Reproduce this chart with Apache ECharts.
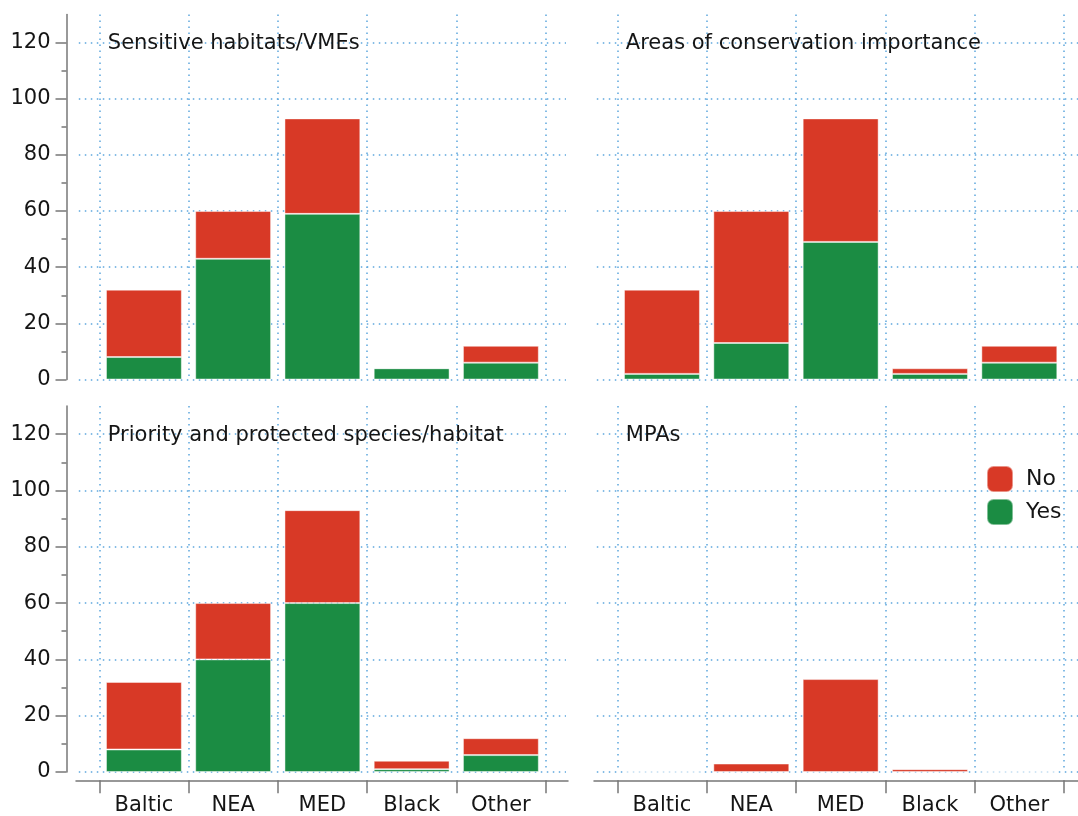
<!DOCTYPE html>
<html>
<head>
<meta charset="utf-8">
<script src="https://cdn.jsdelivr.net/npm/echarts@6/dist/echarts.min.js"></script>
<style>
html,body{margin:0;padding:0;background:#fff;}
#chart{width:1078px;height:816px;}
</style>
</head>
<body>
<div id="chart"></div>
<script>
// ---- data ----
var categories = ['Baltic', 'NEA', 'MED', 'Black', 'Other'];
var panelTitles = ['Sensitive habitats/VMEs', 'Areas of conservation importance', 'Priority and protected species/habitat', 'MPAs'];
var seriesNames = ['No', 'Yes'];
var sensitiveYes = [8, 43, 59, 4, 6];
var sensitiveNo  = [24, 17, 34, 0, 6];
var areasYes     = [2, 13, 49, 2, 6];
var areasNo      = [30, 47, 44, 2, 6];
var priorityYes  = [8, 40, 60, 1, 6];
var priorityNo   = [24, 20, 33, 3, 6];
var mpaYes       = [0, 0, 0, 0, 0];
var mpaNo        = [0, 3, 33, 1, 0];
var yMax = 130, yLabelMax = 120, yStep = 20;

var yesData = [sensitiveYes, areasYes, priorityYes, mpaYes];
var noData  = [sensitiveNo, areasNo, priorityNo, mpaNo];

// ---- layout ----
var RED = '#d83926', GREEN = '#1b8c43', GRIDC = '#5da7dd', AXC = '#777', TXT = '#151515';
var FONT = 'DejaVu Sans', FS = 21;
var DOT = {color: GRIDC, width: 1.5, type: [1.5, 4.5]};
var panels = [
  {catLeft: 99.3, catW: 446.2, top: 14.5, zero: 379.5, left: true,  bottom: false, axL: 76, axW: 492},
  {catLeft: 617.3, catW: 446.7, top: 14.5, zero: 379.5, left: false, bottom: false, axL: 594, axW: 490},
  {catLeft: 99.3, catW: 446.2, top: 406, zero: 772, left: true,  bottom: true, axL: 76, axW: 492},
  {catLeft: 617.3, catW: 446.7, top: 406, zero: 772, left: false, bottom: true, axL: 594, axW: 490}
];
var pad = 20.5, axisX = 66.5, xAxisY = 781;

var grids = [], xAxes = [], yAxes = [], series = [], titles = [];
var HIDE = {axisLine: {show: false}, axisTick: {show: false}, axisLabel: {show: false}, splitLine: {show: false}};
function addGrid(g, xa, ya) {
  var k = grids.length;
  grids.push(g);
  xAxes.push(Object.assign({gridIndex: k}, HIDE, xa));
  yAxes.push(Object.assign({gridIndex: k}, HIDE, ya));
  return k;
}

panels.forEach(function (p, i) {
  var h = p.zero - p.top;
  var hA = h * yLabelMax / yMax;
  // horizontal dotted grid lines (0..120), wider than the category band
  addGrid({left: p.catLeft - pad, top: p.zero - hA, width: p.catW + 2 * pad, height: hA},
    {type: 'value', min: 0, max: 1},
    {type: 'value', min: 0, max: yLabelMax, interval: yStep, splitLine: {show: true, lineStyle: DOT}});
  // bars + vertical dotted lines
  var kb = addGrid({left: p.catLeft, top: p.top, width: p.catW, height: h},
    {type: 'category', data: categories, boundaryGap: true,
     splitLine: {show: true, interval: 0, lineStyle: DOT}},
    {type: 'value', min: 0, max: yMax});
  if (p.left) {
    // y axis line (0..130)
    addGrid({left: axisX, top: p.top, width: 1, height: h},
      {type: 'value', min: 0, max: 1},
      {type: 'value', min: 0, max: yMax, axisLine: {show: true, lineStyle: {color: AXC, width: 1.5}}});
    // y ticks and labels (0..120)
    addGrid({left: axisX, top: p.zero - hA, width: 1, height: hA},
      {type: 'value', min: 0, max: 1},
      {type: 'value', min: 0, max: yLabelMax, interval: yStep,
       axisTick: {show: true, length: 11, lineStyle: {color: AXC, width: 1.5}},
       minorTick: {show: true, splitNumber: 2, length: 5, lineStyle: {color: AXC, width: 1.5}},
       axisLabel: {show: true, fontSize: FS, fontFamily: FONT, color: TXT, margin: 16}});
  }
  if (p.bottom) {
    // x axis line
    addGrid({left: p.axL, top: xAxisY - 1, width: p.axW, height: 1},
      {type: 'value', min: 0, max: 1, axisLine: {show: true, lineStyle: {color: AXC, width: 1.5}}},
      {type: 'value', min: 0, max: 1});
    // x ticks and labels
    addGrid({left: p.catLeft, top: xAxisY - 1, width: p.catW, height: 1},
      {type: 'category', data: categories, boundaryGap: true,
       axisTick: {show: true, length: 13, lineStyle: {color: AXC, width: 1.5}},
       axisLabel: {show: true, fontSize: FS, fontFamily: FONT, color: TXT, margin: 15}},
      {type: 'value', min: 0, max: 1});
  }
  var common = {type: 'bar', stack: 'p' + i, xAxisIndex: kb, yAxisIndex: kb, barCategoryGap: '15%'};
  series.push(Object.assign({}, common, {
    name: seriesNames[1], data: yesData[i],
    itemStyle: {color: GREEN, borderColor: 'rgba(255,255,255,0.45)', borderWidth: 1}
  }));
  series.push(Object.assign({}, common, {
    name: seriesNames[0], data: noData[i],
    itemStyle: {color: RED, borderColor: 'rgba(255,255,255,0.45)', borderWidth: 1}
  }));
  titles.push({
    text: panelTitles[i], left: p.catLeft + 8.5, top: p.zero - hA - 9.5, padding: 0,
    textStyle: {fontSize: FS, fontWeight: 'normal', fontFamily: FONT, color: TXT}
  });
});

var chart = echarts.init(document.getElementById('chart'), null, {renderer: 'canvas'});
chart.setOption({
  backgroundColor: '#fff',
  animation: false,
  title: titles,
  legend: {
    data: [seriesNames[0], seriesNames[1]], orient: 'vertical', left: 986, top: 465,
    itemWidth: 26, itemHeight: 26, itemGap: 5, icon: 'roundRect', padding: 0,
    textStyle: {fontSize: 22, fontFamily: FONT, color: TXT, padding: [0, 0, 0, 8]}
  },
  grid: grids,
  xAxis: xAxes,
  yAxis: yAxes,
  series: series
});
</script>
</body>
</html>
